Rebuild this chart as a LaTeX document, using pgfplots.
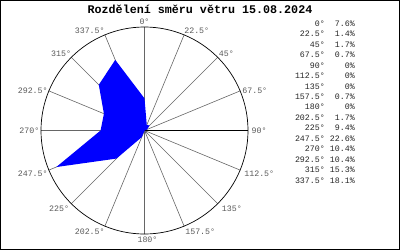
\documentclass[border=0pt]{standalone}
\usepackage{fontspec}
\setmainfont{Liberation Mono}
\usepackage{pgfplots}
\pgfplotsset{compat=1.18}
\usepgfplotslibrary{polar}
\tikzset{lbl/.style={font=\fontsize{8.3}{10}\selectfont, text=black!65, inner sep=1pt}}
\begin{document}
\begin{tikzpicture}
\path[use as bounding box] (0pt,0pt) rectangle (400pt,250pt);
\draw[black, line width=0.8pt] (0.4pt,0.4pt) rectangle (399.6pt,249.6pt);
\node[font=\bfseries\fontsize{11.7}{12}\selectfont, anchor=center] at (200pt,241pt) {Rozdělení směru větru 15.08.2024};
\begin{polaraxis}[
  at={(144.5pt,119.5pt)}, anchor=origin,
  scale only axis, width=207pt, height=207pt,
  ymin=0, ymax=24.5, ytick=\empty,
  xtick={0,22.5,...,337.5},
  xticklabels={},
  xmajorgrids,
  major grid style={black!60, line width=0.6pt},
  axis line style={black, line width=0.7pt},
  major tick length=0pt,
  clip=false,
]
\addplot[fill=blue, draw=none, x filter/.expression={90-x}] coordinates {
 (0,7.6) (22.5,1.4) (45,1.7) (67.5,0.7) (90,0) (112.5,0) (135,0) (157.5,0.7)
 (180,0) (202.5,1.7) (225,9.4) (247.5,22.6) (270,10.4) (292.5,10.4) (315,15.3) (337.5,18.1) (360,7.6)
};
\node[lbl, anchor=south, yshift=1.5pt] at (axis cs:90,24.5) {0°};
\node[lbl, anchor=south west, xshift=-1pt] at (axis cs:67.5,24.5) {22.5°};
\node[lbl, anchor=south west] at (axis cs:45,24.5) {45°};
\node[lbl, anchor=west, xshift=1pt] at (axis cs:22.5,24.5) {67.5°};
\node[lbl, anchor=west, xshift=2.5pt] at (axis cs:0,24.5) {90°};
\node[lbl, anchor=north west, xshift=3pt] at (axis cs:-22.5,24.5) {112.5°};
\node[lbl, anchor=north west, xshift=3pt, yshift=-1.5pt] at (axis cs:-45,24.5) {135°};
\node[lbl, anchor=north west, yshift=-1.5pt] at (axis cs:-67.5,24.5) {157.5°};
\node[lbl, anchor=north, xshift=3pt, yshift=-1.5pt] at (axis cs:-90,24.5) {180°};
\node[lbl, anchor=north east, xshift=1pt, yshift=-1.5pt] at (axis cs:-112.5,24.5) {202.5°};
\node[lbl, anchor=north east, xshift=-1pt, yshift=-1.5pt] at (axis cs:-135,24.5) {225°};
\node[lbl, anchor=north east] at (axis cs:-157.5,24.5) {247.5°};
\node[lbl, anchor=east, xshift=-0.5pt] at (axis cs:180,24.5) {270°};
\node[lbl, anchor=east] at (axis cs:157.5,24.5) {292.5°};
\node[lbl, anchor=south east, xshift=1pt] at (axis cs:135,24.5) {315°};
\node[lbl, anchor=south east, xshift=1pt] at (axis cs:112.5,24.5) {337.5°};
\end{polaraxis}
\node[anchor=base east, inner sep=0pt, font=\fontsize{8.3}{10.5}\selectfont, text=black!85] at (355pt,224pt) {%
\begin{tabular}[t]{@{}r@{\hspace{5pt}}r@{}}
0° & 7.6\% \\
22.5° & 1.4\% \\
45° & 1.7\% \\
67.5° & 0.7\% \\
90° & 0\% \\
112.5° & 0\% \\
135° & 0\% \\
157.5° & 0.7\% \\
180° & 0\% \\
202.5° & 1.7\% \\
225° & 9.4\% \\
247.5° & 22.6\% \\
270° & 10.4\% \\
292.5° & 10.4\% \\
315° & 15.3\% \\
337.5° & 18.1\% \\
\end{tabular}};
\end{tikzpicture}
\end{document}
